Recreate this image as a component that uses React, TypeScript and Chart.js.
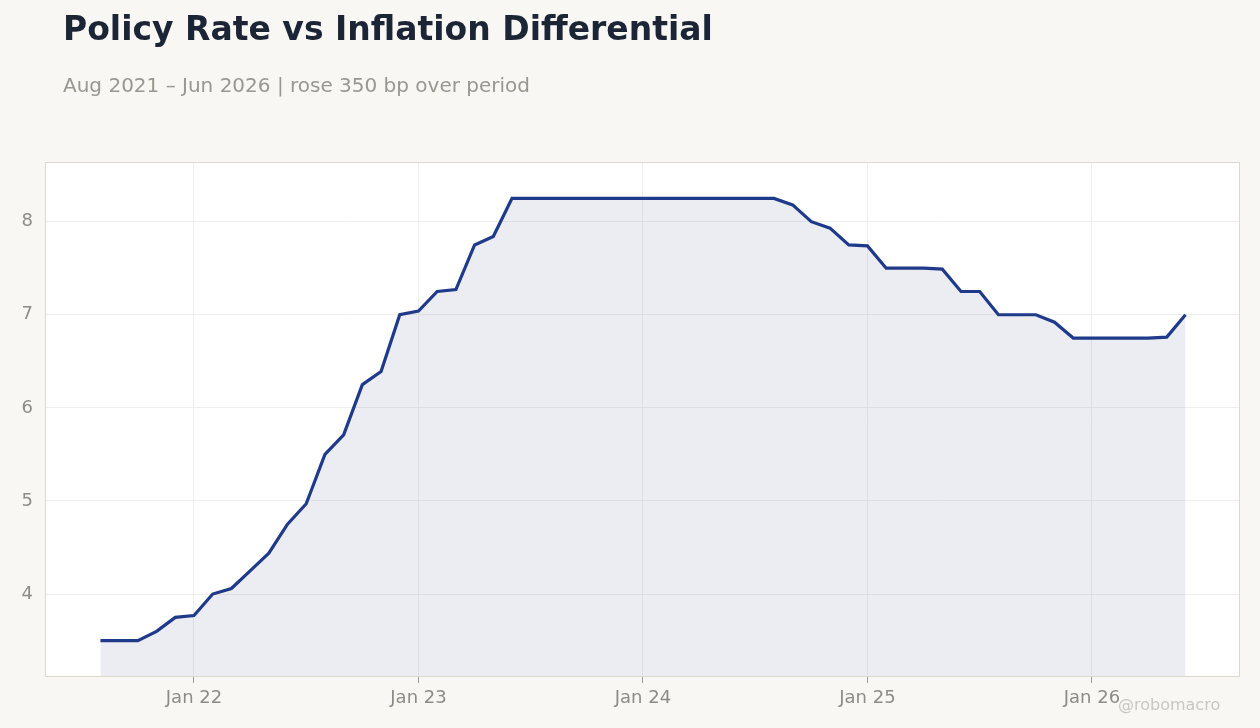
import React, { useRef, useEffect } from "react";
import Chart from "chart.js/auto";

const months = [
  "Aug 21", "Sep 21", "Oct 21", "Nov 21", "Dec 21",
  "Jan 22", "Feb 22", "Mar 22", "Apr 22", "May 22", "Jun 22", "Jul 22", "Aug 22", "Sep 22", "Oct 22", "Nov 22", "Dec 22",
  "Jan 23", "Feb 23", "Mar 23", "Apr 23", "May 23", "Jun 23", "Jul 23", "Aug 23", "Sep 23", "Oct 23", "Nov 23", "Dec 23",
  "Jan 24", "Feb 24", "Mar 24", "Apr 24", "May 24", "Jun 24", "Jul 24", "Aug 24", "Sep 24", "Oct 24", "Nov 24", "Dec 24",
  "Jan 25", "Feb 25", "Mar 25", "Apr 25", "May 25", "Jun 25", "Jul 25", "Aug 25", "Sep 25", "Oct 25", "Nov 25", "Dec 25",
  "Jan 26", "Feb 26", "Mar 26", "Apr 26", "May 26", "Jun 26",
];

const rates = [
  3.5, 3.5, 3.5, 3.6, 3.75,
  3.77, 4.0, 4.06, 4.25, 4.44, 4.75, 4.97, 5.5, 5.71, 6.25, 6.39, 7.0,
  7.04, 7.25, 7.27, 7.75, 7.84, 8.25, 8.25, 8.25, 8.25, 8.25, 8.25, 8.25,
  8.25, 8.25, 8.25, 8.25, 8.25, 8.25, 8.25, 8.25, 8.18, 8.0, 7.93, 7.75,
  7.74, 7.5, 7.5, 7.5, 7.49, 7.25, 7.25, 7.0, 7.0, 7.0, 6.92, 6.75,
  6.75, 6.75, 6.75, 6.75, 6.76, 7.0,
];

const yTicks = [4, 5, 6, 7, 8];

const FONT = "'DejaVu Sans', sans-serif";

const App = () => {
  const chartRef = useRef<HTMLCanvasElement>(null);

  useEffect(() => {
    if (!chartRef.current) return;
    const ctx = chartRef.current.getContext("2d");
    if (!ctx) return;

    const janIdx = months.map((m, i) => (m.startsWith("Jan") ? i : -1)).filter((i) => i >= 0);

    const plotBox = {
      id: "plotBox",
      beforeDraw(chart: any) {
        const { ctx, chartArea: a } = chart;
        ctx.save();
        ctx.fillStyle = "#ffffff";
        ctx.fillRect(a.left, a.top, a.right - a.left, a.bottom - a.top);
        ctx.restore();
      },
      afterDraw(chart: any) {
        const { ctx, chartArea: a } = chart;
        ctx.save();
        ctx.strokeStyle = "#ddd9d1";
        ctx.lineWidth = 1;
        ctx.strokeRect(a.left - 0.5, a.top - 0.5, a.right - a.left + 1, a.bottom - a.top + 1);
        ctx.restore();
      },
    };

    const chart = new Chart(ctx, {
      type: "line",
      data: {
        datasets: [
          {
            label: "Policy rate",
            data: rates.map((v, i) => ({ x: i, y: v })),
            borderColor: "#1f3a8a",
            borderWidth: 3.2,
            backgroundColor: "rgba(40,50,110,0.09)",
            fill: "start",
            pointRadius: 0,
            tension: 0,
          },
        ],
      },
      options: {
        animation: false,
        responsive: true,
        maintainAspectRatio: false,
        layout: { padding: { top: 163, left: 0, right: 21, bottom: 0 } },
        font: { family: FONT },
        scales: {
          x: {
            type: "linear",
            min: -2.91,
            max: months.length - 1 + 2.86,
            afterBuildTicks: (scale: any) => {
              scale.ticks = janIdx.map((v) => ({ value: v }));
            },
            afterFit: (scale: any) => {
              scale.height = 52;
            },
            grid: { color: "#efefef", tickColor: "#a09c96", tickLength: 7 },
            border: { display: false },
            ticks: {
              padding: 5,
              color: "#8f8b85",
              font: { family: FONT, size: 18 },
              callback: (v: any) => months[v] ?? "",
            },
          },
          y: {
            min: 3.12,
            max: 8.63,
            afterBuildTicks: (scale: any) => {
              scale.ticks = yTicks.map((v) => ({ value: v }));
            },
            afterFit: (scale: any) => {
              scale.width = 46;
            },
            grid: { color: "#efefef", drawTicks: false },
            border: { display: false },
            ticks: {
              padding: 13,
              color: "#8f8b85",
              font: { family: FONT, size: 18 },
            },
          },
        },
        plugins: {
          legend: { display: false },
          tooltip: { enabled: false },
        },
      },
      plugins: [plotBox],
    } as any);

    return () => {
      chart.destroy();
    };
  }, []);

  return (
    <div
      style={{
        position: "fixed",
        left: 0,
        top: 0,
        width: 1260,
        height: 728,
        background: "#f8f7f4",
        fontFamily: FONT,
      }}
    >
      <div style={{ position: "absolute", inset: 0 }}>
        <canvas ref={chartRef} />
      </div>
      <div
        style={{
          position: "absolute",
          left: 63,
          top: 12,
          fontSize: 33,
          lineHeight: "33px",
          fontWeight: "bold",
          color: "#1c2536",
          whiteSpace: "nowrap",
        }}
      >
        Policy Rate vs Inflation Differential
      </div>
      <div
        style={{
          position: "absolute",
          left: 63,
          top: 75,
          fontSize: 20,
          lineHeight: "20px",
          color: "#9a9690",
          whiteSpace: "nowrap",
        }}
      >
        Aug 2021 – Jun 2026 | rose 350 bp over period
      </div>
      <div
        style={{
          position: "absolute",
          left: 1118,
          top: 697,
          fontSize: 16,
          lineHeight: "16px",
          color: "#cac7c1",
          whiteSpace: "nowrap",
        }}
      >
        @robomacro
      </div>
    </div>
  );
};

export default App;
